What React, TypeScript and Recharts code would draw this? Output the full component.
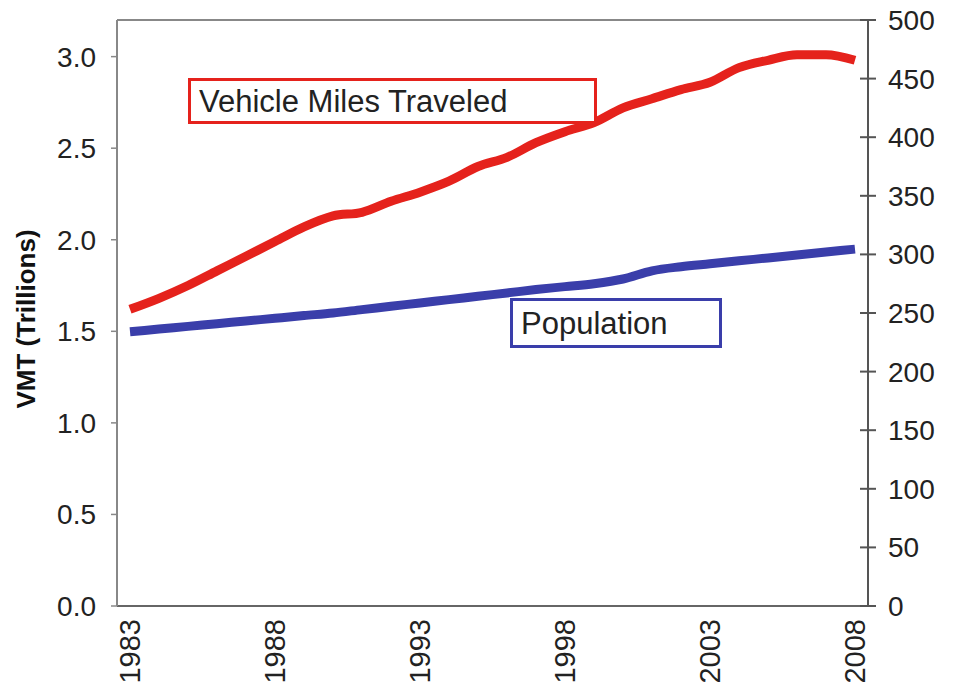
import React from 'react';
import { LineChart, Line, XAxis, YAxis, ReferenceLine } from 'recharts';

const years = [1983, 1984, 1985, 1986, 1987, 1988, 1989, 1990, 1991, 1992, 1993, 1994, 1995, 1996, 1997, 1998, 1999, 2000, 2001, 2002, 2003, 2004, 2005, 2006, 2007, 2008];
const vmtTrillions = [1.62, 1.68, 1.75, 1.83, 1.91, 1.99, 2.07, 2.13, 2.15, 2.21, 2.26, 2.32, 2.40, 2.45, 2.53, 2.59, 2.64, 2.72, 2.77, 2.82, 2.86, 2.94, 2.98, 3.01, 3.01, 2.98];
const populationMillions = [234, 236.3, 238.6, 240.9, 243.2, 245.5, 247.8, 250, 252.9, 255.7, 258.6, 261.4, 264.3, 267.1, 270, 272.5, 275, 279, 286, 289.5, 292, 294.5, 297, 299.5, 302, 304.5];
const leftTicks = [0, 0.5, 1.0, 1.5, 2.0, 2.5, 3.0];
const rightTicks = [0, 50, 100, 150, 200, 250, 300, 350, 400, 450, 500];

const data = years.map((y, i) => ({ year: y, vmt: vmtTrillions[i], pop: populationMillions[i] }));

const FONT = '"Liberation Sans", Arial, sans-serif';

const XTick = (props: any) => {
  const { x, y, payload } = props;
  return (
    <text x={x} y={y} transform={`rotate(-90, ${x}, ${y})`} textAnchor="end" dominantBaseline="central" fontSize={29} fontFamily={FONT} fill="#222">
      {payload.value}
    </text>
  );
};

const RightTick = (props: any) => {
  const { x, y, payload } = props;
  return (
    <g>
      <line x1={x - 28} x2={x - 12} y1={y} y2={y} stroke="#555" strokeWidth={2} />
      <text x={x} y={y} dy={10} textAnchor="start" fontSize={28} fontFamily={FONT} fill="#222">
        {payload.value}
      </text>
    </g>
  );
};

export default function App() {
  return (
    <div style={{ position: 'absolute', left: 0, top: 0, width: 954, height: 687, background: '#fff', overflow: 'hidden' }}>
      <LineChart width={954} height={687} data={data} margin={{ top: 20, right: 0, bottom: 0, left: 0 }}>
        <XAxis
          dataKey="year"
          interval={4}
          padding={{ left: 13, right: 13 }}
          height={81}
          tickLine={false}
          tickSize={6}
          tickMargin={7}
          axisLine={{ stroke: '#666', strokeWidth: 2 }}
          tick={<XTick />}
        />
        <YAxis
          yAxisId="left"
          orientation="left"
          width={117}
          domain={[0, 3.2]}
          ticks={leftTicks}
          allowDataOverflow
          tickFormatter={(v: number) => v.toFixed(1)}
          tickSize={6}
          tickMargin={15}
          tickLine={{ stroke: '#888', strokeWidth: 1.5 }}
          axisLine={{ stroke: '#888', strokeWidth: 2 }}
          tick={{ fontSize: 28, fontFamily: FONT, fill: '#222' }}
          label={{
            content: (p: any) => {
              const vb = p.viewBox;
              const cx = vb.x + 26;
              const cy = vb.y + vb.height / 2 + 6;
              return (
                <text x={cx} y={cy} transform={`rotate(-90, ${cx}, ${cy})`} textAnchor="middle" dominantBaseline="central" fontSize={26} fontWeight="bold" fontFamily={FONT} fill="#111">
                  VMT (Trillions)
                </text>
              );
            },
          }}
        />
        <YAxis
          yAxisId="right"
          orientation="right"
          width={86}
          domain={[0, 500]}
          ticks={rightTicks}
          tickSize={8}
          tickMargin={12}
          tickLine={false}
          axisLine={{ stroke: '#555', strokeWidth: 2 }}
          tick={<RightTick />}
        />
        <ReferenceLine yAxisId="left" y={3.2} stroke="#888" strokeWidth={2} />
        <Line yAxisId="left" type="monotone" dataKey="vmt" stroke="#e5221c" strokeWidth={9} dot={false} isAnimationActive={false} />
        <Line yAxisId="right" type="monotone" dataKey="pop" stroke="#3a3eaa" strokeWidth={9} dot={false} isAnimationActive={false} />
      </LineChart>
      <div style={{ position: 'absolute', left: 188, top: 78, width: 395, height: 40, border: '3px solid #e5221c', background: '#fff', fontFamily: FONT, fontSize: 31, lineHeight: '42px', paddingLeft: 8, boxSizing: 'content-box', color: '#222', whiteSpace: 'nowrap' }}>
        Vehicle Miles Traveled
      </div>
      <div style={{ position: 'absolute', left: 510, top: 298, width: 198, height: 44, border: '3px solid #3a3eaa', background: '#fff', fontFamily: FONT, fontSize: 31, lineHeight: '46px', paddingLeft: 8, boxSizing: 'content-box', color: '#222', whiteSpace: 'nowrap' }}>
        Population
      </div>
    </div>
  );
}
